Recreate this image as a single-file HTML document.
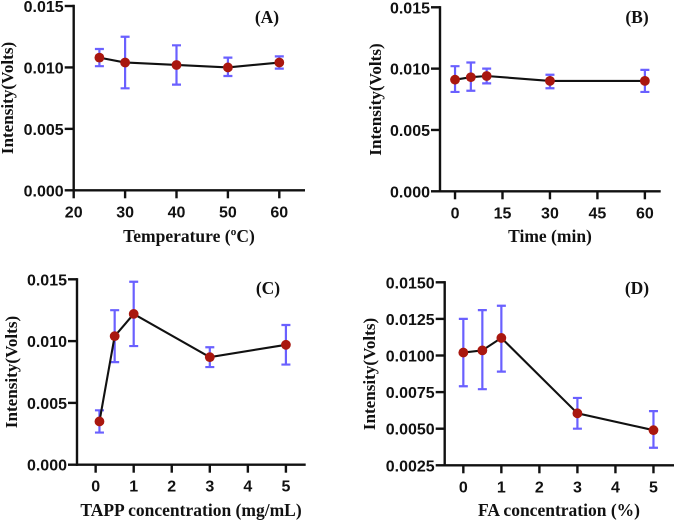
<!DOCTYPE html>
<html>
<head>
<meta charset="utf-8">
<style>
html,body{margin:0;padding:0;background:#fff;width:675px;height:521px;overflow:hidden}
svg{display:block}
.tick{font:bold 16px "Liberation Sans",sans-serif;fill:#111}
.title{font:bold 17.5px "Liberation Serif",serif;fill:#111}
.ytitle{font:bold 17.1px "Liberation Serif",serif;fill:#111}
.tag{font:bold 17.5px "Liberation Serif",serif;fill:#111}
</style>
</head>
<body>
<svg id="figure" xmlns="http://www.w3.org/2000/svg" width="675" height="521" viewBox="0 0 675 521"></svg>
<script>
const aX = [25, 30, 40, 50, 60];
const aY = [0.0108, 0.0104, 0.0102, 0.0100, 0.0104];
const aHi = [0.0115, 0.0125, 0.0118, 0.0108, 0.0109];
const aLo = [0.0101, 0.0083, 0.0086, 0.0093, 0.0099];
const aXTicks = [20, 30, 40, 50, 60];
const aYTicks = ["0.000", "0.005", "0.010", "0.015"];

const bX = [0, 5, 10, 30, 60];
const bY = [0.0091, 0.0093, 0.0094, 0.0090, 0.0090];
const bHi = [0.0102, 0.0105, 0.0100, 0.0095, 0.0099];
const bLo = [0.0081, 0.0082, 0.0088, 0.0084, 0.0081];
const bXTicks = [0, 15, 30, 45, 60];
const bYTicks = ["0.000", "0.005", "0.010", "0.015"];

const cX = [0.1, 0.5, 1, 3, 5];
const cY = [0.0035, 0.0104, 0.0122, 0.0087, 0.0097];
const cHi = [0.0044, 0.0125, 0.0148, 0.0095, 0.0113];
const cLo = [0.0026, 0.0083, 0.0096, 0.0079, 0.0081];
const cXTicks = [0, 1, 2, 3, 4, 5];
const cYTicks = ["0.000", "0.005", "0.010", "0.015"];

const dX = [0, 0.5, 1, 3, 5];
const dY = [0.0102, 0.01035, 0.0112, 0.00605, 0.0049];
const dHi = [0.0125, 0.0131, 0.0134, 0.0071, 0.0062];
const dLo = [0.0079, 0.0077, 0.0089, 0.0050, 0.0037];
const dXTicks = [0, 1, 2, 3, 4, 5];
const dYTicks = ["0.0025", "0.0050", "0.0075", "0.0100", "0.0125", "0.0150"];

const svg = document.getElementById('figure');
const NS = 'http://www.w3.org/2000/svg';

function add(parent, tag, attrs, text) {
  const el = document.createElementNS(NS, tag);
  for (const k in attrs) el.setAttribute(k, attrs[k]);
  if (text !== undefined) el.textContent = text;
  parent.appendChild(el);
  return el;
}

function drawPanel(p) {
  const g = add(svg, 'g', {});
  
  

  const sx = v => p.x0 + (v - p.xMin) * (p.x1 - p.x0) / (p.xMax - p.xMin);
  const sy = v => p.yBottom + (v - p.yMin) * (p.yTop - p.yBottom) / (p.yMax - p.yMin);

  const yAxis = add(g, 'line', {x1: p.x0, x2: p.x0, y1: p.yTop - 1.2, y2: p.yBottom + 1.2, stroke: '#111', 'stroke-width': 2.4});
  
  
  const xAxis = add(g, 'line', {x1: p.x0 - 1, x2: p.x1, y1: p.yBottom, y2: p.yBottom, stroke: '#111', 'stroke-width': 2.4});
  
  

  p.yTicks.forEach(label => {
    const y = sy(parseFloat(label));
    const t = add(g, 'line', {x1: p.x0 - 9, x2: p.x0, y1: y, y2: y, stroke: '#111', 'stroke-width': 2.4});
    
    
    const l = add(g, 'text', {class: 'tick', x: p.x0 - 10, y: y + 6, 'text-anchor': 'end'}, label);
    
    
  });

  p.xTicks.forEach(v => {
    const x = sx(v);
    const t = add(g, 'line', {x1: x, x2: x, y1: p.yBottom, y2: p.yBottom + 8, stroke: '#111', 'stroke-width': 2.4});
    
    
    const l = add(g, 'text', {class: 'tick', x: x, y: p.yBottom + 27, 'text-anchor': 'middle'}, String(v));
    
    
  });

  p.xs.forEach((v, i) => {
    const x = sx(v), hi = sy(p.hi[i]), lo = sy(p.lo[i]);
    const e = add(g, 'path', {
      d: 'M' + (x - 4.5) + ' ' + hi + 'H' + (x + 4.5) + 'M' + x + ' ' + hi + 'V' + lo + 'M' + (x - 4.5) + ' ' + lo + 'H' + (x + 4.5),
      fill: 'none', stroke: '#6a60ff', 'stroke-width': 2.2
    });
    
    
  });

  const line = add(g, 'polyline', {
    points: p.xs.map((v, i) => sx(v) + ',' + sy(p.ys[i])).join(' '),
    fill: 'none', stroke: '#111', 'stroke-width': 2.1
  });
  
  

  p.xs.forEach((v, i) => {
    const c = add(g, 'circle', {cx: sx(v), cy: sy(p.ys[i]), r: 4.9, fill: '#a9170f'});
    
    
  });

  const xt = add(g, 'text', {class: 'title', x: p.xTitleX, y: p.xTitleY, 'text-anchor': 'middle'}, p.xTitle);
  
  

  const yt = add(g, 'text', {class: 'ytitle', x: 0, y: 0, 'text-anchor': 'middle',
    transform: 'translate(' + p.yTitleX + ' ' + p.yTitleY + ') rotate(-90)'}, 'Intensity(Volts)');
  
  

  const tag = add(g, 'text', {class: 'tag', x: p.tagX, y: p.tagY, 'text-anchor': 'middle'}, p.tag);
  
  
}

drawPanel({key: 'a', tag: '(A)', tagX: 267, tagY: 23,
  x0: 73.7, x1: 305, xMin: 20, xMax: 65,
  yTop: 6, yBottom: 190.3, yMin: 0, yMax: 0.015,
  xs: aX, ys: aY, hi: aHi, lo: aLo, xTicks: aXTicks, yTicks: aYTicks,
  xTitle: 'Temperature (ºC)', xTitleX: 189, xTitleY: 242, yTitleX: 13, yTitleY: 98});

drawPanel({key: 'b', tag: '(B)', tagX: 637, tagY: 23,
  x0: 440, x1: 660.7, xMin: -4.75, xMax: 65,
  yTop: 7.3, yBottom: 191.3, yMin: 0, yMax: 0.015,
  xs: bX, ys: bY, hi: bHi, lo: bLo, xTicks: bXTicks, yTicks: bYTicks,
  xTitle: 'Time (min)', xTitleX: 550, xTitleY: 242, yTitleX: 381, yTitleY: 99.5});

drawPanel({key: 'c', tag: '(C)', tagX: 268, tagY: 294,
  x0: 77, x1: 305.7, xMin: -0.49, xMax: 5.52,
  yTop: 279.3, yBottom: 464.7, yMin: 0, yMax: 0.015,
  xs: cX, ys: cY, hi: cHi, lo: cLo, xTicks: cXTicks, yTicks: cYTicks,
  xTitle: 'TAPP concentration (mg/mL)', xTitleX: 191, xTitleY: 516, yTitleX: 17, yTitleY: 372});

drawPanel({key: 'd', tag: '(D)', tagX: 637, tagY: 294,
  x0: 444.7, x1: 674, xMin: -0.49, xMax: 5.54,
  yTop: 282.3, yBottom: 465.3, yMin: 0.0025, yMax: 0.015,
  xs: dX, ys: dY, hi: dHi, lo: dLo, xTicks: dXTicks, yTicks: dYTicks,
  xTitle: 'FA concentration (%)', xTitleX: 559, xTitleY: 516, yTitleX: 375, yTitleY: 374});
</script>
</body>
</html>
